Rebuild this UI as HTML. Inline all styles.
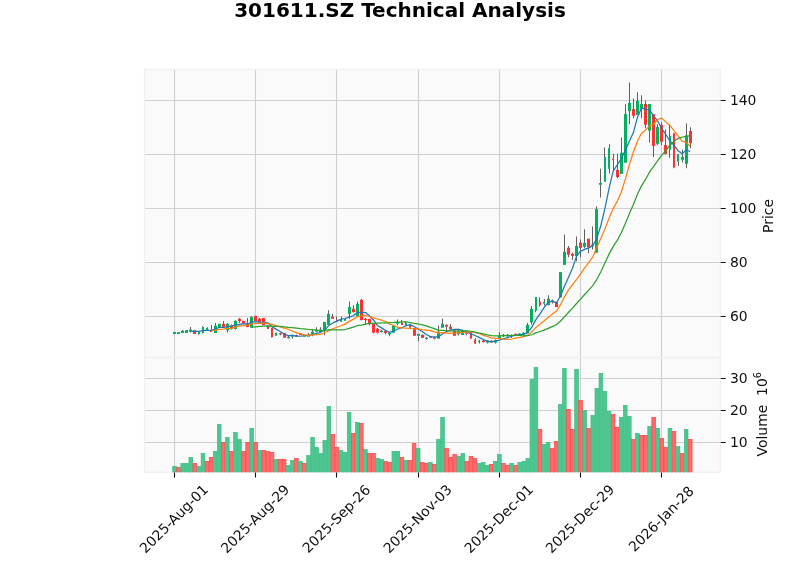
<!DOCTYPE html>
<html><head><meta charset="utf-8"><title>301611.SZ Technical Analysis</title>
<style>html,body{margin:0;padding:0;background:#fff;overflow:hidden}svg{display:block;will-change:transform;opacity:0.999}</style></head>
<body>
<svg width="800" height="575" viewBox="0 0 800 575" font-family="DejaVu Sans, Liberation Sans, sans-serif">
<rect width="800" height="575" fill="#ffffff"/>
<rect x="144.5" y="69.4" width="575.9" height="402.79999999999995" fill="#fafafa"/>
<path d="M174.5 69.4V472.2M255.5 69.4V472.2M336.5 69.4V472.2M418.5 69.4V472.2M499.5 69.4V472.2M580.5 69.4V472.2M661.5 69.4V472.2M144.5 316.5H720.4M144.5 262.5H720.4M144.5 208.5H720.4M144.5 154.5H720.4M144.5 100.5H720.4M144.5 442.5H720.4M144.5 410.5H720.4M144.5 378.5H720.4" stroke="#d0d0d0" stroke-width="1.1" fill="none"/>
<path d="M144.5 69.4H720.4V472.2H144.5ZM144.5 357.5H720.4" stroke="#f0f0f0" stroke-width="1.3" fill="none"/>
<clipPath id="cm"><rect x="144.5" y="69.4" width="575.9" height="288.1"/></clipPath>
<clipPath id="cv"><rect x="144.5" y="357.5" width="575.9" height="114.69999999999999"/></clipPath>
<g clip-path="url(#cv)">
<rect x="172.72" y="466.40" width="3.65" height="8.10" fill="#4dc790" stroke="#3dbb82" stroke-width="0.7"/>
<rect x="176.78" y="467.40" width="3.65" height="7.10" fill="#fd6b6c" stroke="#fe4246" stroke-width="0.7"/>
<rect x="180.84" y="463.40" width="3.65" height="11.10" fill="#4dc790" stroke="#3dbb82" stroke-width="0.7"/>
<rect x="184.90" y="463.40" width="3.65" height="11.10" fill="#4dc790" stroke="#3dbb82" stroke-width="0.7"/>
<rect x="188.96" y="457.40" width="3.65" height="17.10" fill="#4dc790" stroke="#3dbb82" stroke-width="0.7"/>
<rect x="193.02" y="463.40" width="3.65" height="11.10" fill="#fd6b6c" stroke="#fe4246" stroke-width="0.7"/>
<rect x="197.08" y="466.40" width="3.65" height="8.10" fill="#4dc790" stroke="#3dbb82" stroke-width="0.7"/>
<rect x="201.14" y="453.40" width="3.65" height="21.10" fill="#4dc790" stroke="#3dbb82" stroke-width="0.7"/>
<rect x="205.20" y="461.40" width="3.65" height="13.10" fill="#fd6b6c" stroke="#fe4246" stroke-width="0.7"/>
<rect x="209.26" y="457.40" width="3.65" height="17.10" fill="#fd6b6c" stroke="#fe4246" stroke-width="0.7"/>
<rect x="213.32" y="451.40" width="3.65" height="23.10" fill="#4dc790" stroke="#3dbb82" stroke-width="0.7"/>
<rect x="217.38" y="424.30" width="3.65" height="50.20" fill="#4dc790" stroke="#3dbb82" stroke-width="0.7"/>
<rect x="221.44" y="442.40" width="3.65" height="32.10" fill="#fd6b6c" stroke="#fe4246" stroke-width="0.7"/>
<rect x="225.50" y="437.40" width="3.65" height="37.10" fill="#4dc790" stroke="#3dbb82" stroke-width="0.7"/>
<rect x="229.56" y="451.40" width="3.65" height="23.10" fill="#fd6b6c" stroke="#fe4246" stroke-width="0.7"/>
<rect x="233.62" y="432.40" width="3.65" height="42.10" fill="#4dc790" stroke="#3dbb82" stroke-width="0.7"/>
<rect x="237.68" y="439.50" width="3.65" height="35.00" fill="#4dc790" stroke="#3dbb82" stroke-width="0.7"/>
<rect x="241.74" y="451.40" width="3.65" height="23.10" fill="#fd6b6c" stroke="#fe4246" stroke-width="0.7"/>
<rect x="245.80" y="442.40" width="3.65" height="32.10" fill="#fd6b6c" stroke="#fe4246" stroke-width="0.7"/>
<rect x="249.86" y="428.40" width="3.65" height="46.10" fill="#4dc790" stroke="#3dbb82" stroke-width="0.7"/>
<rect x="253.93" y="442.40" width="3.65" height="32.10" fill="#fd6b6c" stroke="#fe4246" stroke-width="0.7"/>
<rect x="257.99" y="450.40" width="3.65" height="24.10" fill="#4dc790" stroke="#3dbb82" stroke-width="0.7"/>
<rect x="262.05" y="450.40" width="3.65" height="24.10" fill="#fd6b6c" stroke="#fe4246" stroke-width="0.7"/>
<rect x="266.11" y="451.40" width="3.65" height="23.10" fill="#fd6b6c" stroke="#fe4246" stroke-width="0.7"/>
<rect x="270.17" y="452.40" width="3.65" height="22.10" fill="#fd6b6c" stroke="#fe4246" stroke-width="0.7"/>
<rect x="274.23" y="459.40" width="3.65" height="15.10" fill="#4dc790" stroke="#3dbb82" stroke-width="0.7"/>
<rect x="278.29" y="459.40" width="3.65" height="15.10" fill="#fd6b6c" stroke="#fe4246" stroke-width="0.7"/>
<rect x="282.35" y="459.40" width="3.65" height="15.10" fill="#fd6b6c" stroke="#fe4246" stroke-width="0.7"/>
<rect x="286.41" y="465.40" width="3.65" height="9.10" fill="#4dc790" stroke="#3dbb82" stroke-width="0.7"/>
<rect x="290.47" y="460.40" width="3.65" height="14.10" fill="#4dc790" stroke="#3dbb82" stroke-width="0.7"/>
<rect x="294.53" y="458.40" width="3.65" height="16.10" fill="#fd6b6c" stroke="#fe4246" stroke-width="0.7"/>
<rect x="298.59" y="461.40" width="3.65" height="13.10" fill="#4dc790" stroke="#3dbb82" stroke-width="0.7"/>
<rect x="302.65" y="463.40" width="3.65" height="11.10" fill="#fd6b6c" stroke="#fe4246" stroke-width="0.7"/>
<rect x="306.71" y="455.40" width="3.65" height="19.10" fill="#4dc790" stroke="#3dbb82" stroke-width="0.7"/>
<rect x="310.77" y="437.40" width="3.65" height="37.10" fill="#4dc790" stroke="#3dbb82" stroke-width="0.7"/>
<rect x="314.83" y="447.40" width="3.65" height="27.10" fill="#4dc790" stroke="#3dbb82" stroke-width="0.7"/>
<rect x="318.89" y="453.40" width="3.65" height="21.10" fill="#4dc790" stroke="#3dbb82" stroke-width="0.7"/>
<rect x="322.95" y="440.40" width="3.65" height="34.10" fill="#4dc790" stroke="#3dbb82" stroke-width="0.7"/>
<rect x="327.01" y="406.40" width="3.65" height="68.10" fill="#4dc790" stroke="#3dbb82" stroke-width="0.7"/>
<rect x="331.07" y="434.40" width="3.65" height="40.10" fill="#fd6b6c" stroke="#fe4246" stroke-width="0.7"/>
<rect x="335.14" y="447.40" width="3.65" height="27.10" fill="#fd6b6c" stroke="#fe4246" stroke-width="0.7"/>
<rect x="339.20" y="450.40" width="3.65" height="24.10" fill="#4dc790" stroke="#3dbb82" stroke-width="0.7"/>
<rect x="343.26" y="452.40" width="3.65" height="22.10" fill="#4dc790" stroke="#3dbb82" stroke-width="0.7"/>
<rect x="347.32" y="412.40" width="3.65" height="62.10" fill="#4dc790" stroke="#3dbb82" stroke-width="0.7"/>
<rect x="351.38" y="433.40" width="3.65" height="41.10" fill="#fd6b6c" stroke="#fe4246" stroke-width="0.7"/>
<rect x="355.44" y="422.40" width="3.65" height="52.10" fill="#4dc790" stroke="#3dbb82" stroke-width="0.7"/>
<rect x="359.50" y="423.40" width="3.65" height="51.10" fill="#fd6b6c" stroke="#fe4246" stroke-width="0.7"/>
<rect x="363.56" y="449.40" width="3.65" height="25.10" fill="#4dc790" stroke="#3dbb82" stroke-width="0.7"/>
<rect x="367.62" y="453.40" width="3.65" height="21.10" fill="#fd6b6c" stroke="#fe4246" stroke-width="0.7"/>
<rect x="371.68" y="453.40" width="3.65" height="21.10" fill="#fd6b6c" stroke="#fe4246" stroke-width="0.7"/>
<rect x="375.74" y="458.40" width="3.65" height="16.10" fill="#4dc790" stroke="#3dbb82" stroke-width="0.7"/>
<rect x="379.80" y="459.40" width="3.65" height="15.10" fill="#4dc790" stroke="#3dbb82" stroke-width="0.7"/>
<rect x="383.86" y="461.40" width="3.65" height="13.10" fill="#fd6b6c" stroke="#fe4246" stroke-width="0.7"/>
<rect x="387.92" y="462.40" width="3.65" height="12.10" fill="#fd6b6c" stroke="#fe4246" stroke-width="0.7"/>
<rect x="391.98" y="451.40" width="3.65" height="23.10" fill="#4dc790" stroke="#3dbb82" stroke-width="0.7"/>
<rect x="396.04" y="451.40" width="3.65" height="23.10" fill="#4dc790" stroke="#3dbb82" stroke-width="0.7"/>
<rect x="400.10" y="457.40" width="3.65" height="17.10" fill="#fd6b6c" stroke="#fe4246" stroke-width="0.7"/>
<rect x="404.16" y="460.40" width="3.65" height="14.10" fill="#4dc790" stroke="#3dbb82" stroke-width="0.7"/>
<rect x="408.22" y="460.40" width="3.65" height="14.10" fill="#fd6b6c" stroke="#fe4246" stroke-width="0.7"/>
<rect x="412.28" y="443.40" width="3.65" height="31.10" fill="#fd6b6c" stroke="#fe4246" stroke-width="0.7"/>
<rect x="416.35" y="448.40" width="3.65" height="26.10" fill="#4dc790" stroke="#3dbb82" stroke-width="0.7"/>
<rect x="420.41" y="462.40" width="3.65" height="12.10" fill="#fd6b6c" stroke="#fe4246" stroke-width="0.7"/>
<rect x="424.47" y="463.40" width="3.65" height="11.10" fill="#fd6b6c" stroke="#fe4246" stroke-width="0.7"/>
<rect x="428.53" y="462.40" width="3.65" height="12.10" fill="#4dc790" stroke="#3dbb82" stroke-width="0.7"/>
<rect x="432.59" y="464.40" width="3.65" height="10.10" fill="#fd6b6c" stroke="#fe4246" stroke-width="0.7"/>
<rect x="436.65" y="439.40" width="3.65" height="35.10" fill="#4dc790" stroke="#3dbb82" stroke-width="0.7"/>
<rect x="440.71" y="417.40" width="3.65" height="57.10" fill="#4dc790" stroke="#3dbb82" stroke-width="0.7"/>
<rect x="444.77" y="448.40" width="3.65" height="26.10" fill="#fd6b6c" stroke="#fe4246" stroke-width="0.7"/>
<rect x="448.83" y="457.40" width="3.65" height="17.10" fill="#fd6b6c" stroke="#fe4246" stroke-width="0.7"/>
<rect x="452.89" y="454.40" width="3.65" height="20.10" fill="#fd6b6c" stroke="#fe4246" stroke-width="0.7"/>
<rect x="456.95" y="456.40" width="3.65" height="18.10" fill="#4dc790" stroke="#3dbb82" stroke-width="0.7"/>
<rect x="461.01" y="453.40" width="3.65" height="21.10" fill="#4dc790" stroke="#3dbb82" stroke-width="0.7"/>
<rect x="465.07" y="461.40" width="3.65" height="13.10" fill="#fd6b6c" stroke="#fe4246" stroke-width="0.7"/>
<rect x="469.13" y="456.40" width="3.65" height="18.10" fill="#fd6b6c" stroke="#fe4246" stroke-width="0.7"/>
<rect x="473.19" y="458.40" width="3.65" height="16.10" fill="#fd6b6c" stroke="#fe4246" stroke-width="0.7"/>
<rect x="477.25" y="463.40" width="3.65" height="11.10" fill="#4dc790" stroke="#3dbb82" stroke-width="0.7"/>
<rect x="481.31" y="462.40" width="3.65" height="12.10" fill="#4dc790" stroke="#3dbb82" stroke-width="0.7"/>
<rect x="485.37" y="465.40" width="3.65" height="9.10" fill="#4dc790" stroke="#3dbb82" stroke-width="0.7"/>
<rect x="489.43" y="464.40" width="3.65" height="10.10" fill="#fd6b6c" stroke="#fe4246" stroke-width="0.7"/>
<rect x="493.49" y="461.40" width="3.65" height="13.10" fill="#4dc790" stroke="#3dbb82" stroke-width="0.7"/>
<rect x="497.56" y="454.40" width="3.65" height="20.10" fill="#4dc790" stroke="#3dbb82" stroke-width="0.7"/>
<rect x="501.62" y="463.40" width="3.65" height="11.10" fill="#fd6b6c" stroke="#fe4246" stroke-width="0.7"/>
<rect x="505.68" y="465.40" width="3.65" height="9.10" fill="#fd6b6c" stroke="#fe4246" stroke-width="0.7"/>
<rect x="509.74" y="463.40" width="3.65" height="11.10" fill="#4dc790" stroke="#3dbb82" stroke-width="0.7"/>
<rect x="513.80" y="465.40" width="3.65" height="9.10" fill="#fd6b6c" stroke="#fe4246" stroke-width="0.7"/>
<rect x="517.86" y="462.40" width="3.65" height="12.10" fill="#4dc790" stroke="#3dbb82" stroke-width="0.7"/>
<rect x="521.92" y="461.40" width="3.65" height="13.10" fill="#4dc790" stroke="#3dbb82" stroke-width="0.7"/>
<rect x="525.98" y="458.40" width="3.65" height="16.10" fill="#4dc790" stroke="#3dbb82" stroke-width="0.7"/>
<rect x="530.04" y="379.40" width="3.65" height="95.10" fill="#4dc790" stroke="#3dbb82" stroke-width="0.7"/>
<rect x="534.10" y="367.40" width="3.65" height="107.10" fill="#4dc790" stroke="#3dbb82" stroke-width="0.7"/>
<rect x="538.16" y="429.40" width="3.65" height="45.10" fill="#fd6b6c" stroke="#fe4246" stroke-width="0.7"/>
<rect x="542.22" y="444.40" width="3.65" height="30.10" fill="#4dc790" stroke="#3dbb82" stroke-width="0.7"/>
<rect x="546.28" y="442.40" width="3.65" height="32.10" fill="#4dc790" stroke="#3dbb82" stroke-width="0.7"/>
<rect x="550.34" y="448.40" width="3.65" height="26.10" fill="#fd6b6c" stroke="#fe4246" stroke-width="0.7"/>
<rect x="554.40" y="441.40" width="3.65" height="33.10" fill="#fd6b6c" stroke="#fe4246" stroke-width="0.7"/>
<rect x="558.46" y="404.40" width="3.65" height="70.10" fill="#4dc790" stroke="#3dbb82" stroke-width="0.7"/>
<rect x="562.52" y="368.40" width="3.65" height="106.10" fill="#4dc790" stroke="#3dbb82" stroke-width="0.7"/>
<rect x="566.58" y="409.40" width="3.65" height="65.10" fill="#fd6b6c" stroke="#fe4246" stroke-width="0.7"/>
<rect x="570.64" y="429.50" width="3.65" height="45.00" fill="#fd6b6c" stroke="#fe4246" stroke-width="0.7"/>
<rect x="574.70" y="369.40" width="3.65" height="105.10" fill="#4dc790" stroke="#3dbb82" stroke-width="0.7"/>
<rect x="578.76" y="400.40" width="3.65" height="74.10" fill="#fd6b6c" stroke="#fe4246" stroke-width="0.7"/>
<rect x="582.83" y="410.40" width="3.65" height="64.10" fill="#4dc790" stroke="#3dbb82" stroke-width="0.7"/>
<rect x="586.89" y="428.50" width="3.65" height="46.00" fill="#fd6b6c" stroke="#fe4246" stroke-width="0.7"/>
<rect x="590.95" y="415.40" width="3.65" height="59.10" fill="#4dc790" stroke="#3dbb82" stroke-width="0.7"/>
<rect x="595.01" y="388.40" width="3.65" height="86.10" fill="#4dc790" stroke="#3dbb82" stroke-width="0.7"/>
<rect x="599.07" y="373.40" width="3.65" height="101.10" fill="#4dc790" stroke="#3dbb82" stroke-width="0.7"/>
<rect x="603.13" y="391.40" width="3.65" height="83.10" fill="#4dc790" stroke="#3dbb82" stroke-width="0.7"/>
<rect x="607.19" y="411.40" width="3.65" height="63.10" fill="#4dc790" stroke="#3dbb82" stroke-width="0.7"/>
<rect x="611.25" y="414.40" width="3.65" height="60.10" fill="#fd6b6c" stroke="#fe4246" stroke-width="0.7"/>
<rect x="615.31" y="427.40" width="3.65" height="47.10" fill="#fd6b6c" stroke="#fe4246" stroke-width="0.7"/>
<rect x="619.37" y="417.40" width="3.65" height="57.10" fill="#4dc790" stroke="#3dbb82" stroke-width="0.7"/>
<rect x="623.43" y="405.40" width="3.65" height="69.10" fill="#4dc790" stroke="#3dbb82" stroke-width="0.7"/>
<rect x="627.49" y="416.40" width="3.65" height="58.10" fill="#4dc790" stroke="#3dbb82" stroke-width="0.7"/>
<rect x="631.55" y="439.40" width="3.65" height="35.10" fill="#fd6b6c" stroke="#fe4246" stroke-width="0.7"/>
<rect x="635.61" y="433.40" width="3.65" height="41.10" fill="#4dc790" stroke="#3dbb82" stroke-width="0.7"/>
<rect x="639.67" y="435.40" width="3.65" height="39.10" fill="#fd6b6c" stroke="#fe4246" stroke-width="0.7"/>
<rect x="643.73" y="435.40" width="3.65" height="39.10" fill="#fd6b6c" stroke="#fe4246" stroke-width="0.7"/>
<rect x="647.79" y="426.40" width="3.65" height="48.10" fill="#4dc790" stroke="#3dbb82" stroke-width="0.7"/>
<rect x="651.85" y="417.40" width="3.65" height="57.10" fill="#fd6b6c" stroke="#fe4246" stroke-width="0.7"/>
<rect x="655.91" y="428.40" width="3.65" height="46.10" fill="#4dc790" stroke="#3dbb82" stroke-width="0.7"/>
<rect x="659.98" y="438.40" width="3.65" height="36.10" fill="#fd6b6c" stroke="#fe4246" stroke-width="0.7"/>
<rect x="664.04" y="447.40" width="3.65" height="27.10" fill="#fd6b6c" stroke="#fe4246" stroke-width="0.7"/>
<rect x="668.10" y="428.40" width="3.65" height="46.10" fill="#4dc790" stroke="#3dbb82" stroke-width="0.7"/>
<rect x="672.16" y="431.40" width="3.65" height="43.10" fill="#fd6b6c" stroke="#fe4246" stroke-width="0.7"/>
<rect x="676.22" y="446.40" width="3.65" height="28.10" fill="#4dc790" stroke="#3dbb82" stroke-width="0.7"/>
<rect x="680.28" y="453.40" width="3.65" height="21.10" fill="#fd6b6c" stroke="#fe4246" stroke-width="0.7"/>
<rect x="684.34" y="429.40" width="3.65" height="45.10" fill="#4dc790" stroke="#3dbb82" stroke-width="0.7"/>
<rect x="688.40" y="439.40" width="3.65" height="35.10" fill="#fd6b6c" stroke="#fe4246" stroke-width="0.7"/>
</g>
<g clip-path="url(#cm)">
<path d="M182.50 330.00V331.00M190.50 326.88V329.75M190.50 331.50V332.50M198.50 334.00V334.75M202.50 326.25V327.25M202.50 332.75V333.50M207.50 327.25V328.12M207.50 329.62V330.00M211.50 325.00V329.75M215.50 323.12V326.00M223.50 321.00V324.00M223.50 327.50V328.12M227.50 323.12V324.00M227.50 330.00V332.50M231.50 324.38V325.62M231.50 328.75V329.38M235.50 320.25V321.00M235.50 328.75V329.38M239.50 317.88V319.00M239.50 321.00V323.12M247.50 318.12V323.50M251.50 316.25V317.12M251.50 327.50V327.75M259.50 318.12V319.00M259.50 321.88V322.50M271.50 336.88V337.50M276.50 332.50V333.12M280.50 332.50V333.38M280.50 333.88V335.25M284.50 337.50V338.12M288.50 336.00V337.00M288.50 337.50V338.50M292.50 334.38V335.25M292.50 336.50V338.50M296.50 334.38V335.25M296.50 336.50V336.88M308.50 333.12V334.75M312.50 329.38V331.88M312.50 334.00V336.25M316.50 327.25V330.25M316.50 331.50V332.50M320.50 327.25V329.75M320.50 331.88V332.50M324.50 329.75V335.25M328.50 310.25V314.00M332.50 314.00V316.88M332.50 318.50V319.00M336.50 316.50V320.00M336.50 321.25V321.88M341.50 316.50V319.75M341.50 321.50V321.88M345.50 318.12V319.00M345.50 320.62V321.00M349.50 301.50V307.25M349.50 313.75V319.00M353.50 305.25V309.00M353.50 311.88V312.50M357.50 301.50V304.00M361.50 299.00V300.00M361.50 319.75V320.62M365.50 318.12V319.00M365.50 319.62V324.38M369.50 324.00V325.25M373.50 323.12V324.00M373.50 332.50V333.50M377.50 328.12V329.00M377.50 332.50V333.50M381.50 330.00V330.88M381.50 331.50V332.50M385.50 330.25V331.00M385.50 332.75V334.38M389.50 332.25V333.12M389.50 333.75V336.25M393.50 325.25V326.00M393.50 332.50V333.12M397.50 319.38V322.25M397.50 323.50V325.25M401.50 320.00V322.75M401.50 324.75V325.00M405.50 321.00V322.75M405.50 325.25V325.62M410.50 323.75V324.75M410.50 327.50V327.75M414.50 328.12V328.75M418.50 335.62V341.25M422.50 334.38V335.00M422.50 337.75V338.12M426.50 337.25V337.88M426.50 338.50V339.38M430.50 336.00V336.25M430.50 337.50V338.12M434.50 336.50V337.50M434.50 338.38V339.38M438.50 325.62V331.88M442.50 318.50V324.00M442.50 327.50V328.12M446.50 324.38V325.00M446.50 326.50V331.25M450.50 324.00V326.88M450.50 328.75V329.00M454.50 330.00V330.62M458.50 328.75V331.50M458.50 334.00V335.62M462.50 329.38V330.62M462.50 334.75V335.00M466.50 330.62V332.50M466.50 333.25V335.25M470.50 331.25V331.88M470.50 338.50V338.75M475.50 338.12V339.75M475.50 343.50V343.75M479.50 339.75V341.00M479.50 341.62V343.50M483.50 339.38V340.88M483.50 341.50V342.50M487.50 340.00V340.62M487.50 342.50V343.50M491.50 340.25V341.00M491.50 342.25V342.50M495.50 339.38V340.25M495.50 342.50V343.50M499.50 332.25V335.62M499.50 338.12V338.50M503.50 334.00V335.00M503.50 335.75V336.88M507.50 334.00V335.00M507.50 335.75V336.50M511.50 334.38V335.25M511.50 336.25V338.12M515.50 333.75V334.00M515.50 334.75V335.25M519.50 333.12V333.75M519.50 334.50V335.00M523.50 332.25V333.12M523.50 334.38V334.75M527.50 323.12V325.00M531.50 306.00V309.00M531.50 322.25V324.38M535.50 310.62V312.25M539.50 297.50V301.88M539.50 305.00V306.50M544.50 299.00V302.25M544.50 303.50V305.62M548.50 295.25V299.00M548.50 304.75V305.62M552.50 299.38V300.62M552.50 302.00V303.50M564.50 234.50V252.00M568.50 246.00V247.90M568.50 254.50V257.30M572.50 252.80V253.90M572.50 255.70V259.80M576.50 236.40V246.10M576.50 255.80V261.20M580.50 239.50V242.90M580.50 247.70V257.30M584.50 229.20V243.10M584.50 246.70V248.30M588.50 247.00V253.30M592.50 226.40V244.90M592.50 245.50V249.50M596.50 206.20V209.30M600.50 168.70V183.20M600.50 184.60V197.60M604.50 147.40V157.10M609.50 144.20V148.30M609.50 168.70V173.40M613.50 153.70V159.00M613.50 159.50V170.70M617.50 153.70V170.00M617.50 176.80V178.20M621.50 137.50V153.00M625.50 104.20V114.30M629.50 82.50V103.10M629.50 111.00V124.20M633.50 98.40V109.20M633.50 115.60V118.30M637.50 92.30V101.10M641.50 95.30V104.20M641.50 108.60V118.30M645.50 100.40V104.20M645.50 124.60V128.20M649.50 130.50V142.50M653.50 145.70V157.10M657.50 124.20V127.30M657.50 143.70V145.00M661.50 122.00V125.10M661.50 141.60V145.20M665.50 129.60V145.20M665.50 153.70V154.40M669.50 124.20V136.20M669.50 149.70V157.80M673.50 167.30V168.30M678.50 153.70V154.40M678.50 161.50V166.00M682.50 149.70V157.10M682.50 159.60V162.60M686.50 123.50V135.70M686.50 163.60V168.30M690.50 127.30V131.20M690.50 142.90V148.20" stroke="#606060" stroke-width="1.05" fill="none"/>
<rect x="173" y="331.93" width="3" height="2.02" fill="#00b060"/>
<rect x="177" y="332.05" width="3" height="1.90" fill="#00b060"/>
<rect x="181" y="330.80" width="3" height="2.15" fill="#00b060"/>
<rect x="185" y="330.05" width="3" height="2.90" fill="#00b060"/>
<rect x="189" y="329.55" width="3" height="2.15" fill="#00b060"/>
<rect x="193" y="330.18" width="3" height="3.77" fill="#fe3032"/>
<rect x="198" y="331.68" width="2" height="2.52" fill="#00b060"/>
<rect x="202" y="327.05" width="2" height="5.90" fill="#00b060"/>
<rect x="206" y="327.93" width="2" height="1.90" fill="#00b060"/>
<rect x="210" y="329.55" width="2" height="2.52" fill="#fe3032"/>
<rect x="214" y="325.80" width="3" height="7.15" fill="#00b060"/>
<rect x="218" y="323.80" width="3" height="3.90" fill="#00b060"/>
<rect x="222" y="323.80" width="3" height="3.90" fill="#fe3032"/>
<rect x="226" y="323.80" width="3" height="6.40" fill="#00b060"/>
<rect x="230" y="325.43" width="3" height="3.52" fill="#fe3032"/>
<rect x="234" y="320.80" width="3" height="8.15" fill="#00b060"/>
<rect x="238" y="318.80" width="3" height="2.40" fill="#fe3032"/>
<rect x="242" y="320.80" width="3" height="2.90" fill="#fe3032"/>
<rect x="246" y="323.30" width="3" height="3.77" fill="#fe3032"/>
<rect x="250" y="316.93" width="3" height="10.78" fill="#00b060"/>
<rect x="254" y="315.80" width="3" height="5.65" fill="#fe3032"/>
<rect x="258" y="318.80" width="3" height="3.27" fill="#fe3032"/>
<rect x="262" y="317.93" width="3" height="7.28" fill="#fe3032"/>
<rect x="267" y="325.43" width="2" height="3.52" fill="#fe3032"/>
<rect x="271" y="327.93" width="2" height="9.15" fill="#fe3032"/>
<rect x="275" y="332.93" width="2" height="2.90" fill="#00b060"/>
<rect x="279" y="333.18" width="3" height="1.40" fill="#fe3032"/>
<rect x="283" y="332.93" width="3" height="4.78" fill="#fe3032"/>
<rect x="287" y="336.80" width="3" height="1.40" fill="#00b060"/>
<rect x="291" y="335.05" width="3" height="1.65" fill="#00b060"/>
<rect x="295" y="335.05" width="3" height="1.65" fill="#fe3032"/>
<rect x="299" y="333.30" width="3" height="1.90" fill="#fe3032"/>
<rect x="303" y="334.80" width="3" height="1.90" fill="#00b060"/>
<rect x="307" y="334.55" width="3" height="2.15" fill="#00b060"/>
<rect x="311" y="331.68" width="3" height="2.52" fill="#00b060"/>
<rect x="315" y="330.05" width="3" height="1.65" fill="#00b060"/>
<rect x="319" y="329.55" width="3" height="2.52" fill="#00b060"/>
<rect x="323" y="321.93" width="3" height="8.03" fill="#00b060"/>
<rect x="327" y="313.80" width="3" height="11.15" fill="#00b060"/>
<rect x="331" y="316.68" width="3" height="2.02" fill="#fe3032"/>
<rect x="336" y="319.80" width="2" height="1.65" fill="#fe3032"/>
<rect x="340" y="319.55" width="2" height="2.15" fill="#00b060"/>
<rect x="344" y="318.80" width="2" height="2.02" fill="#00b060"/>
<rect x="348" y="307.05" width="3" height="6.90" fill="#00b060"/>
<rect x="352" y="308.80" width="3" height="3.27" fill="#fe3032"/>
<rect x="356" y="303.80" width="3" height="12.40" fill="#00b060"/>
<rect x="360" y="299.80" width="3" height="20.15" fill="#fe3032"/>
<rect x="364" y="318.80" width="3" height="1.40" fill="#fe3032"/>
<rect x="368" y="318.80" width="3" height="5.40" fill="#fe3032"/>
<rect x="372" y="323.80" width="3" height="8.90" fill="#fe3032"/>
<rect x="376" y="328.80" width="3" height="3.90" fill="#fe3032"/>
<rect x="380" y="330.68" width="3" height="1.40" fill="#00b060"/>
<rect x="384" y="330.80" width="3" height="2.15" fill="#fe3032"/>
<rect x="388" y="332.93" width="3" height="1.40" fill="#00b060"/>
<rect x="392" y="325.80" width="3" height="6.90" fill="#00b060"/>
<rect x="396" y="322.05" width="3" height="1.65" fill="#00b060"/>
<rect x="401" y="322.55" width="2" height="2.40" fill="#fe3032"/>
<rect x="405" y="322.55" width="2" height="2.90" fill="#00b060"/>
<rect x="409" y="324.55" width="2" height="3.15" fill="#fe3032"/>
<rect x="413" y="328.55" width="3" height="7.28" fill="#fe3032"/>
<rect x="417" y="333.80" width="3" height="2.02" fill="#00b060"/>
<rect x="421" y="334.80" width="3" height="3.15" fill="#fe3032"/>
<rect x="425" y="337.68" width="3" height="1.40" fill="#00b060"/>
<rect x="429" y="336.05" width="3" height="1.65" fill="#fe3032"/>
<rect x="433" y="337.30" width="3" height="1.40" fill="#fe3032"/>
<rect x="437" y="331.68" width="3" height="7.03" fill="#00b060"/>
<rect x="441" y="323.80" width="3" height="3.90" fill="#00b060"/>
<rect x="445" y="324.80" width="3" height="1.90" fill="#fe3032"/>
<rect x="449" y="326.68" width="3" height="2.27" fill="#fe3032"/>
<rect x="453" y="330.43" width="3" height="5.40" fill="#fe3032"/>
<rect x="457" y="331.30" width="3" height="2.90" fill="#00b060"/>
<rect x="461" y="330.43" width="3" height="4.53" fill="#00b060"/>
<rect x="465" y="332.30" width="3" height="1.40" fill="#fe3032"/>
<rect x="470" y="331.68" width="2" height="7.03" fill="#fe3032"/>
<rect x="474" y="339.55" width="2" height="4.15" fill="#fe3032"/>
<rect x="478" y="340.80" width="2" height="1.40" fill="#00b060"/>
<rect x="482" y="340.68" width="3" height="1.40" fill="#fe3032"/>
<rect x="486" y="340.43" width="3" height="2.27" fill="#00b060"/>
<rect x="490" y="340.80" width="3" height="1.65" fill="#fe3032"/>
<rect x="494" y="340.05" width="3" height="2.65" fill="#00b060"/>
<rect x="498" y="335.43" width="3" height="2.90" fill="#00b060"/>
<rect x="502" y="334.80" width="3" height="1.40" fill="#00b060"/>
<rect x="506" y="334.80" width="3" height="1.40" fill="#00b060"/>
<rect x="510" y="335.05" width="3" height="1.40" fill="#00b060"/>
<rect x="514" y="333.80" width="3" height="1.40" fill="#fe3032"/>
<rect x="518" y="333.55" width="3" height="1.40" fill="#00b060"/>
<rect x="522" y="332.93" width="3" height="1.65" fill="#00b060"/>
<rect x="526" y="324.80" width="3" height="8.53" fill="#00b060"/>
<rect x="530" y="308.80" width="3" height="13.65" fill="#00b060"/>
<rect x="535" y="297.05" width="2" height="13.78" fill="#00b060"/>
<rect x="539" y="301.68" width="2" height="3.52" fill="#fe3032"/>
<rect x="543" y="302.05" width="2" height="1.65" fill="#00b060"/>
<rect x="547" y="298.80" width="3" height="6.15" fill="#00b060"/>
<rect x="551" y="300.43" width="3" height="1.77" fill="#fe3032"/>
<rect x="555" y="301.68" width="3" height="5.40" fill="#fe3032"/>
<rect x="559" y="272.10" width="3" height="25.40" fill="#00b060"/>
<rect x="563" y="251.80" width="3" height="13.10" fill="#00b060"/>
<rect x="567" y="247.70" width="3" height="7.00" fill="#fe3032"/>
<rect x="571" y="253.70" width="3" height="2.20" fill="#fe3032"/>
<rect x="575" y="245.90" width="3" height="10.10" fill="#00b060"/>
<rect x="579" y="242.70" width="3" height="5.20" fill="#fe3032"/>
<rect x="583" y="242.90" width="3" height="4.00" fill="#00b060"/>
<rect x="587" y="238.70" width="3" height="8.50" fill="#fe3032"/>
<rect x="591" y="244.70" width="3" height="1.40" fill="#00b060"/>
<rect x="595" y="209.10" width="3" height="43.70" fill="#00b060"/>
<rect x="599" y="183.00" width="3" height="1.80" fill="#00b060"/>
<rect x="604" y="156.90" width="2" height="24.90" fill="#00b060"/>
<rect x="608" y="148.10" width="2" height="20.80" fill="#00b060"/>
<rect x="612" y="158.80" width="2" height="1.40" fill="#fe3032"/>
<rect x="616" y="169.80" width="3" height="7.20" fill="#fe3032"/>
<rect x="620" y="152.80" width="3" height="21.10" fill="#00b060"/>
<rect x="624" y="114.10" width="3" height="48.70" fill="#00b060"/>
<rect x="628" y="102.90" width="3" height="8.30" fill="#00b060"/>
<rect x="632" y="109.00" width="3" height="6.80" fill="#fe3032"/>
<rect x="636" y="100.90" width="3" height="14.00" fill="#00b060"/>
<rect x="640" y="104.00" width="3" height="4.80" fill="#00b060"/>
<rect x="644" y="104.00" width="3" height="20.80" fill="#fe3032"/>
<rect x="648" y="104.00" width="3" height="26.70" fill="#00b060"/>
<rect x="652" y="114.10" width="3" height="31.80" fill="#fe3032"/>
<rect x="656" y="127.10" width="3" height="16.80" fill="#00b060"/>
<rect x="660" y="124.90" width="3" height="16.90" fill="#fe3032"/>
<rect x="664" y="145.00" width="3" height="8.90" fill="#fe3032"/>
<rect x="669" y="136.00" width="2" height="13.90" fill="#00b060"/>
<rect x="673" y="133.10" width="2" height="34.40" fill="#fe3032"/>
<rect x="677" y="154.20" width="2" height="7.50" fill="#00b060"/>
<rect x="681" y="156.90" width="3" height="2.90" fill="#00b060"/>
<rect x="685" y="135.50" width="3" height="28.30" fill="#00b060"/>
<rect x="689" y="131.00" width="3" height="12.10" fill="#fe3032"/>
<polyline points="190.78,331.07 194.84,331.40 198.90,331.32 202.96,330.57 207.02,330.15 211.08,330.57 215.14,329.02 219.21,327.45 223.27,327.50 227.33,326.68 231.39,326.05 235.45,325.05 239.51,324.45 243.57,323.65 247.63,324.23 251.69,321.90 255.75,321.95 259.81,322.12 263.87,322.43 267.93,322.80 271.99,326.75 276.05,329.12 280.11,331.52 284.17,334.02 288.23,335.68 292.29,335.35 296.36,336.02 300.42,336.25 304.48,335.75 308.54,335.30 312.60,334.62 316.66,333.38 320.72,332.32 324.78,329.75 328.84,325.60 332.90,322.93 336.96,321.12 341.02,319.12 345.08,318.50 349.14,317.15 353.20,315.82 357.26,312.38 361.32,312.38 365.38,312.50 369.44,315.85 373.50,319.98 377.56,325.68 381.63,327.90 385.69,330.52 389.75,332.35 393.81,331.05 397.87,329.00 401.93,327.77 405.99,325.77 410.05,324.65 414.11,326.57 418.17,328.93 422.23,331.52 426.29,334.55 430.35,336.55 434.41,337.10 438.47,336.68 442.53,333.93 446.59,331.65 450.65,329.90 454.71,329.35 458.77,329.27 462.84,330.60 466.90,331.95 470.96,333.90 475.02,335.48 479.08,337.38 483.14,339.55 487.20,341.02 491.26,341.77 495.32,341.12 499.38,340.05 503.44,338.75 507.50,337.62 511.56,336.23 515.62,335.12 519.68,334.75 523.74,334.38 527.80,332.38 531.86,327.12 535.92,319.62 539.99,313.88 544.05,307.70 548.11,302.50 552.17,301.10 556.23,303.02 560.29,296.49 564.35,286.44 568.41,277.53 572.47,268.27 576.53,256.12 580.59,251.20 584.65,249.42 588.71,247.92 592.77,245.76 596.83,238.40 600.89,225.50 604.95,208.30 609.01,188.56 613.07,171.48 617.13,164.98 621.20,158.94 625.26,150.38 629.32,141.34 633.38,132.56 637.44,117.42 641.50,107.66 645.56,109.72 649.62,109.94 653.68,115.96 657.74,121.20 661.80,128.68 665.86,134.50 669.92,140.90 673.98,145.22 678.04,150.64 682.10,153.74 686.16,150.14 690.22,151.48" stroke="#1f77b4" stroke-width="1.25" fill="none" stroke-linejoin="round"/>
<polyline points="211.08,330.82 215.14,330.21 219.21,329.39 223.27,329.04 227.33,328.41 231.39,328.31 235.45,327.04 239.51,325.95 243.57,325.57 247.63,325.45 251.69,323.98 255.75,323.50 259.81,323.29 263.87,323.04 267.93,323.51 271.99,324.32 276.05,325.54 280.11,326.82 284.17,328.23 288.23,329.24 292.29,331.05 296.36,332.57 300.42,333.89 304.48,334.89 308.54,335.49 312.60,334.99 316.66,334.70 320.72,334.29 324.78,332.75 328.84,330.45 332.90,328.77 336.96,327.25 341.02,325.73 345.08,324.12 349.14,321.38 353.20,319.38 357.26,316.75 361.32,315.75 365.38,315.50 369.44,316.50 373.50,317.90 377.56,319.02 381.63,320.14 385.69,321.51 389.75,324.10 393.81,325.51 397.87,327.34 401.93,327.84 405.99,328.15 410.05,328.50 414.11,328.81 418.17,328.96 422.23,329.65 426.29,330.16 430.35,330.60 434.41,331.84 438.47,332.80 442.53,332.73 446.59,333.10 450.65,333.23 454.71,333.23 458.77,332.98 462.84,332.26 466.90,331.80 470.96,331.90 475.02,332.41 479.08,333.32 483.14,335.07 487.20,336.49 491.26,337.84 495.32,338.30 499.38,338.71 503.44,339.15 507.50,339.32 511.56,339.00 515.62,338.12 519.68,337.40 523.74,336.56 527.80,335.00 531.86,331.68 535.92,327.38 539.99,324.31 544.05,321.04 548.11,317.44 552.17,314.11 556.23,311.32 560.29,305.18 564.35,297.07 568.41,290.02 572.47,284.69 576.53,279.57 580.59,273.84 584.65,267.93 588.71,262.73 592.77,257.02 596.83,247.26 600.89,238.35 604.95,228.86 609.01,218.24 613.07,208.62 617.13,201.69 621.20,192.22 625.26,179.34 629.32,164.95 633.38,152.02 637.44,141.20 641.50,133.30 645.56,130.05 649.62,125.64 653.68,124.26 657.74,119.31 661.80,118.17 665.86,122.11 669.92,125.42 673.98,130.59 678.04,135.92 682.10,141.21 686.16,142.32 690.22,146.19" stroke="#ff7f0e" stroke-width="1.25" fill="none" stroke-linejoin="round"/>
<polyline points="251.69,327.40 255.75,326.86 259.81,326.34 263.87,326.04 267.93,325.96 271.99,326.32 276.05,326.29 280.11,326.39 284.17,326.90 288.23,327.34 292.29,327.51 296.36,328.04 300.42,328.59 304.48,328.96 308.54,329.50 312.60,329.66 316.66,330.12 320.72,330.56 324.78,330.49 328.84,329.84 332.90,329.91 336.96,329.91 341.02,329.81 345.08,329.51 349.14,328.43 353.20,327.18 357.26,325.73 361.32,325.02 365.38,324.12 369.44,323.48 373.50,323.34 377.56,323.14 381.63,322.93 385.69,322.82 389.75,322.74 393.81,322.44 397.87,322.04 401.93,321.79 405.99,321.82 410.05,322.50 414.11,323.36 418.17,323.99 422.23,324.89 426.29,325.84 430.35,327.35 434.41,328.68 438.47,330.07 442.53,330.28 446.59,330.62 450.65,330.86 454.71,331.02 458.77,330.97 462.84,330.96 466.90,330.98 470.96,331.25 475.02,332.12 479.08,333.06 483.14,333.90 487.20,334.79 491.26,335.53 495.32,335.76 499.38,335.84 503.44,335.71 507.50,335.56 511.56,335.45 515.62,335.27 519.68,335.36 523.74,335.82 527.80,335.74 531.86,334.76 535.92,332.84 539.99,331.51 544.05,330.09 548.11,328.38 552.17,326.56 556.23,324.73 560.29,321.29 564.35,316.81 568.41,312.51 572.47,308.18 576.53,303.47 580.59,299.08 584.65,294.48 588.71,290.08 592.77,285.56 596.83,279.29 600.89,271.76 604.95,262.96 609.01,254.13 613.07,246.65 617.13,240.63 621.20,233.03 625.26,223.63 629.32,213.84 633.38,204.52 637.44,194.23 641.50,185.82 645.56,179.45 649.62,171.94 653.68,166.44 657.74,160.50 661.80,155.19 665.86,150.72 669.92,145.19 673.98,141.31 678.04,138.56 682.10,137.25 686.16,136.19 690.22,135.92" stroke="#2ca02c" stroke-width="1.25" fill="none" stroke-linejoin="round"/>
</g>
<path d="M720.6999999999999 316.5h5M720.6999999999999 262.5h5M720.6999999999999 208.5h5M720.6999999999999 154.5h5M720.6999999999999 100.5h5M720.6999999999999 442.5h5M720.6999999999999 410.5h5M720.6999999999999 378.5h5M174.5 472.5v5M255.5 472.5v5M336.5 472.5v5M418.5 472.5v5M499.5 472.5v5M580.5 472.5v5M661.5 472.5v5" stroke="#101010" stroke-width="1.1" fill="none"/>
<text x="729.9" y="320.80" font-size="13.9" fill="#101010">60</text>
<text x="729.9" y="266.80" font-size="13.9" fill="#101010">80</text>
<text x="729.9" y="212.80" font-size="13.9" fill="#101010">100</text>
<text x="729.9" y="158.80" font-size="13.9" fill="#101010">120</text>
<text x="729.9" y="104.80" font-size="13.9" fill="#101010">140</text>
<text x="729.9" y="446.80" font-size="13.9" fill="#101010">10</text>
<text x="729.9" y="414.80" font-size="13.9" fill="#101010">20</text>
<text x="729.9" y="382.80" font-size="13.9" fill="#101010">30</text>
<text transform="translate(174.74,519.70) rotate(-45)" text-anchor="middle" font-size="13.9" fill="#101010" dy="3.6">2025-Aug-01</text>
<text transform="translate(255.95,519.70) rotate(-45)" text-anchor="middle" font-size="13.9" fill="#101010" dy="3.6">2025-Aug-29</text>
<text transform="translate(337.16,519.70) rotate(-45)" text-anchor="middle" font-size="13.9" fill="#101010" dy="3.6">2025-Sep-26</text>
<text transform="translate(418.37,519.70) rotate(-45)" text-anchor="middle" font-size="13.9" fill="#101010" dy="3.6">2025-Nov-03</text>
<text transform="translate(499.58,519.70) rotate(-45)" text-anchor="middle" font-size="13.9" fill="#101010" dy="3.6">2025-Dec-01</text>
<text transform="translate(580.79,519.70) rotate(-45)" text-anchor="middle" font-size="13.9" fill="#101010" dy="3.6">2025-Dec-29</text>
<text transform="translate(662.00,519.70) rotate(-45)" text-anchor="middle" font-size="13.9" fill="#101010" dy="3.6">2026-Jan-28</text>
<text transform="translate(773,215.95) rotate(-90)" text-anchor="middle" font-size="13.9" fill="#101010">Price</text>
<text transform="translate(767.2,414.25) rotate(-90)" text-anchor="middle" font-size="13.9" fill="#101010">Volume&#160;&#160;10<tspan dy="-5.8" font-size="9.7">6</tspan></text>
<text x="400" y="17" text-anchor="middle" font-size="20" font-weight="bold" fill="#000">301611.SZ Technical Analysis</text>
</svg>
</body></html>
